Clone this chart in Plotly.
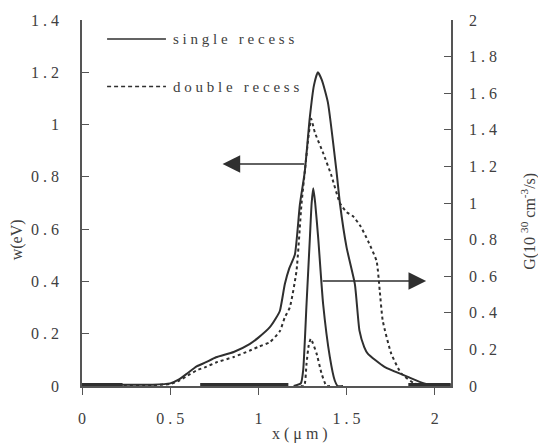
import plotly.graph_objects as go

# ---------------- data ----------------
x_single = [0, 0.2, 0.4, 0.5, 0.55, 0.6, 0.65, 0.7, 0.76, 0.86, 0.95, 1.0, 1.065, 1.1, 1.122,
            1.15, 1.175, 1.207, 1.235, 1.263, 1.292, 1.315, 1.337, 1.36, 1.394, 1.443, 1.462,
            1.5, 1.547, 1.573, 1.6, 1.62, 1.715, 1.847, 1.94, 2.0, 2.09]
w_single = [0.005, 0.005, 0.005, 0.01, 0.025, 0.05, 0.075, 0.09, 0.11, 0.13, 0.16, 0.185, 0.225, 0.26, 0.288,
            0.39, 0.45, 0.503, 0.693, 0.82, 1.03, 1.15, 1.20, 1.17, 1.085, 0.82, 0.70,
            0.53, 0.39, 0.212, 0.149, 0.124, 0.073, 0.035, 0.01, 0.005, 0.005]

x_double = [0, 0.2, 0.4, 0.5, 0.55, 0.6, 0.65, 0.7, 0.76, 0.86, 0.95, 1.0, 1.065, 1.122, 1.15,
            1.178, 1.216, 1.244, 1.263, 1.285, 1.299, 1.32, 1.365, 1.413, 1.462, 1.5, 1.537,
            1.58, 1.622, 1.67, 1.688, 1.705, 1.753, 1.81, 1.885, 2.0, 2.09]
w_double = [0.003, 0.003, 0.003, 0.008, 0.02, 0.04, 0.06, 0.072, 0.09, 0.111, 0.135, 0.15, 0.168, 0.21, 0.263,
            0.30, 0.44, 0.693, 0.82, 0.96, 1.022, 0.97, 0.895, 0.807, 0.70, 0.665, 0.649,
            0.61, 0.554, 0.478, 0.364, 0.25, 0.124, 0.048, 0.01, 0.003, 0.003]

xg_single = [1.20, 1.241, 1.254, 1.273, 1.292, 1.302, 1.311, 1.322, 1.339, 1.367, 1.405, 1.433, 1.45, 1.48]
g_single = [0, 0.015, 0.087, 0.448, 0.81, 1.0, 1.08, 1.0, 0.81, 0.448, 0.159, 0.03, 0, 0]

xg_double = [1.24, 1.26, 1.273, 1.285, 1.297, 1.33, 1.358, 1.386, 1.41]
g_double = [0, 0, 0.123, 0.22, 0.258, 0.177, 0.069, 0, 0]

# heavy zero-level segments of G along the baseline
zero_x = [0, 0.23, None, 0.67, 1.17, None, 1.85, 2.09]
zero_g = [0, 0, None, 0, 0, None, 0, 0]

x_ticks = [0, 0.5, 1, 1.5, 2]
w_ticks = [0, 0.2, 0.4, 0.6, 0.8, 1, 1.2, 1.4]
g_ticks = [0, 0.2, 0.4, 0.6, 0.8, 1, 1.2, 1.4, 1.6, 1.8, 2]

legend_names = ["single recess", "double recess"]

# ---------------- helpers ----------------
def spaced(s):
    # letter-spaced look of the original figure
    return " ".join(list(s.replace(" ", "\u00a0")))

def fmt(v):
    return ("%g" % v)

FONT = "Liberation Serif"
TXT = "#404040"
LINE = "#2f2f2f"

fig = go.Figure()

fig.add_trace(go.Scatter(x=x_single, y=w_single, mode="lines", name=legend_names[0],
                         line=dict(color=LINE, width=2, shape="spline", smoothing=0.5),
                         showlegend=False))
fig.add_trace(go.Scatter(x=x_double, y=w_double, mode="lines", name=legend_names[1],
                         line=dict(color=LINE, width=2, dash="3px,3px", shape="spline", smoothing=0.5),
                         showlegend=False))
fig.add_trace(go.Scatter(x=xg_single, y=g_single, mode="lines", yaxis="y2",
                         line=dict(color=LINE, width=2, shape="spline", smoothing=0.5),
                         showlegend=False))
fig.add_trace(go.Scatter(x=xg_double, y=g_double, mode="lines", yaxis="y2",
                         line=dict(color=LINE, width=2, dash="3px,3px", shape="spline", smoothing=0.5),
                         showlegend=False))
fig.add_trace(go.Scatter(x=zero_x, y=zero_g, mode="lines", yaxis="y2",
                         line=dict(color=LINE, width=6), showlegend=False, connectgaps=False))

tickfont = dict(family=FONT, size=16, color=TXT)

fig.update_layout(
    width=538, height=446,
    margin=dict(l=82, r=87, t=17, b=60),
    paper_bgcolor="white", plot_bgcolor="white",
    showlegend=False,
    xaxis=dict(range=[0, 2.092], showgrid=False, zeroline=False,
               showline=True, linecolor="#555555", linewidth=1.5,
               ticks="outside", ticklen=7, tickcolor="#555555",
               tickvals=x_ticks, ticktext=[spaced(fmt(v)) for v in x_ticks],
               tickfont=tickfont, ticklabelstandoff=10),
    yaxis=dict(range=[0, 1.4], showgrid=False, zeroline=False,
               showline=True, linecolor="#555555", linewidth=1.5,
               ticks="inside", ticklen=7, tickcolor="#555555",
               tickvals=w_ticks, ticktext=[spaced(fmt(v)) for v in w_ticks],
               tickfont=tickfont, ticklabelstandoff=18),
    yaxis2=dict(range=[0, 2], overlaying="y", side="right", showgrid=False, zeroline=False,
                showline=True, linecolor="#555555", linewidth=1.5,
                ticks="inside", ticklen=7, tickcolor="#555555",
                tickvals=g_ticks, ticktext=[spaced(fmt(v)) for v in g_ticks],
                tickfont=tickfont, ticklabelstandoff=13),
)

# axis titles
fig.add_annotation(x=-0.177, y=0.40, xref="paper", yref="paper", text="w(eV)", textangle=-90,
                   xanchor="center", yanchor="middle",
                   showarrow=False, font=dict(family=FONT, size=16, color=TXT))
fig.add_annotation(x=1.21, y=0.45, xref="paper", yref="paper",
                   text="G(10 <sup>30</sup> cm<sup>-3</sup>/s)", textangle=-90,
                   xanchor="center", yanchor="middle",
                   showarrow=False, font=dict(family=FONT, size=16, color=TXT))
fig.add_annotation(x=0.59, y=-0.16, xref="paper", yref="paper", text=spaced("x(μm)"),
                   showarrow=False, font=dict(family=FONT, size=16, color=TXT))

# legend (drawn manually)
for i, (name, dash) in enumerate(zip(legend_names, ["solid", "dash"])):
    yp = 0.948 - i * 0.130
    fig.add_shape(type="line", xref="paper", yref="paper", x0=0.068, x1=0.2275, y0=yp, y1=yp,
                  line=dict(color=LINE, width=1.5, dash="solid" if dash == "solid" else "4px,3px"))
    fig.add_annotation(x=0.240, y=yp, xref="paper", yref="paper", text=spaced(name),
                       xanchor="left", yanchor="middle", showarrow=False,
                       font=dict(family=FONT, size=15, color=TXT))

# arrows
fig.add_annotation(x=0.797, y=0.849, ax=1.269, ay=0.849, xref="x", yref="y", axref="x", ayref="y",
                   text="", showarrow=True, arrowhead=2, arrowsize=2.2, arrowwidth=1.6, arrowcolor=LINE)
fig.add_annotation(x=1.951, y=0.574, ax=1.356, ay=0.574, xref="x", yref="y2", axref="x", ayref="y2",
                   text="", showarrow=True, arrowhead=2, arrowsize=2.2, arrowwidth=1.6, arrowcolor=LINE)

fig.write_html("out.html")
